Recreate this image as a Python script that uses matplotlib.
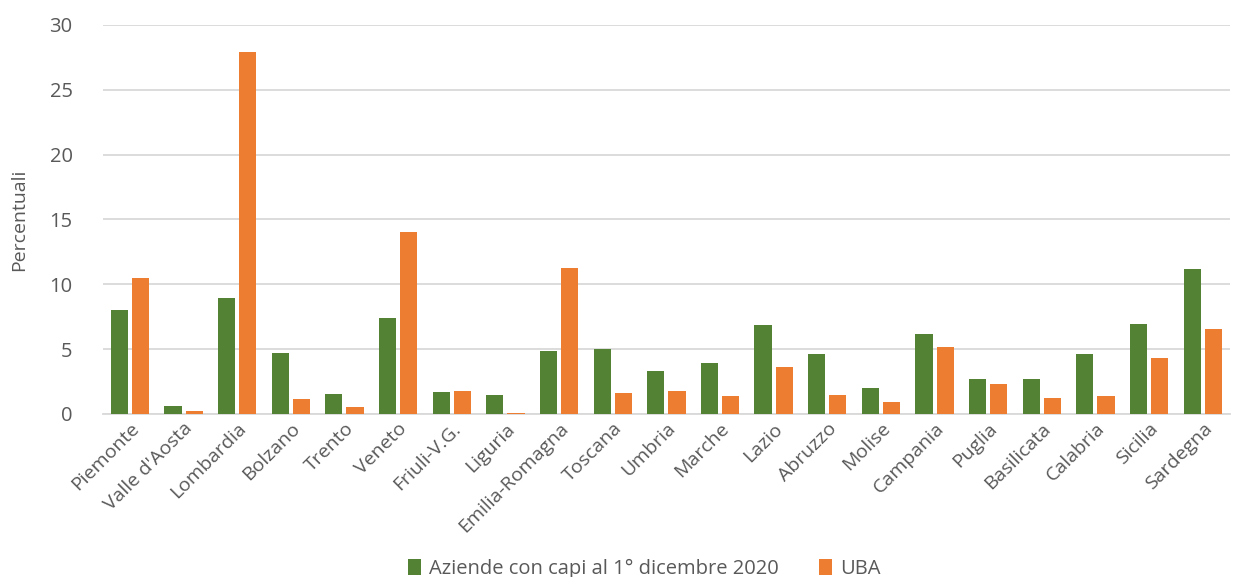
import matplotlib
matplotlib.use("Agg")
import matplotlib.pyplot as plt
import numpy as np

regions = ["Piemonte", "Valle d'Aosta", "Lombardia", "Bolzano", "Trento", "Veneto",
           "Friuli-V.G.", "Liguria", "Emilia-Romagna", "Toscana", "Umbria", "Marche",
           "Lazio", "Abruzzo", "Molise", "Campania", "Puglia", "Basilicata",
           "Calabria", "Sicilia", "Sardegna"]
aziende = [8.0, 0.6, 8.95, 4.7, 1.55, 7.4, 1.7, 1.5, 4.85, 5.0, 3.35, 3.95,
           6.85, 4.65, 2.0, 6.2, 2.7, 2.7, 4.6, 6.9, 11.2]
uba = [10.5, 0.25, 27.9, 1.15, 0.55, 14.0, 1.75, 0.1, 11.25, 1.65, 1.8, 1.4,
       3.6, 1.5, 0.9, 5.2, 2.35, 1.2, 1.35, 4.3, 6.55]
series_names = ["Aziende con capi al 1° dicembre 2020", "UBA"]
yticks = [0, 5, 10, 15, 20, 25, 30]

plt.rcParams['font.family'] = ['Open Sans', 'DejaVu Sans']
txt = '#595959'

fig = plt.figure(figsize=(12.42, 5.77), dpi=100)
ax = fig.add_axes([0.083, 0.2825, 0.907, 0.6745])

x = np.arange(len(regions))
w = 0.32
gap = 0.075
ax.bar(x - (w + gap) / 2, aziende, w, color='#548235', label=series_names[0], zorder=3)
ax.bar(x + (w + gap) / 2, uba, w, color='#ED7D31', label=series_names[1], zorder=3)

ax.set_xlim(-0.5, len(regions) - 0.5)
ax.set_ylim(0, 30)
ax.set_yticks(yticks)
ax.set_yticklabels([str(v) for v in yticks], fontsize=14.5, color=txt)
ax.yaxis.grid(True, color='#d9d9d9', linewidth=1.3, zorder=0)
ax.set_axisbelow(True)
for s in ['top', 'right', 'left']:
    ax.spines[s].set_visible(False)
ax.spines['bottom'].set_color('#d9d9d9')
ax.spines['bottom'].set_linewidth(1.3)
ax.tick_params(axis='y', length=0, pad=22)
ax.tick_params(axis='x', length=0, pad=4)
ax.set_xticks(x)
ax.set_xticklabels(regions, rotation=45, ha='right', rotation_mode='anchor',
                   fontsize=14, color=txt)
ax.set_ylabel("Percentuali", fontsize=14, color=txt, labelpad=15)

fig.legend(loc='lower center', bbox_to_anchor=(0.519, -0.035), ncol=2, frameon=False,
           fontsize=14.5, handlelength=0.65, handleheight=0.9, columnspacing=2.0,
           handletextpad=0.4, labelcolor=txt)

fig.savefig("out.png", dpi=100)
